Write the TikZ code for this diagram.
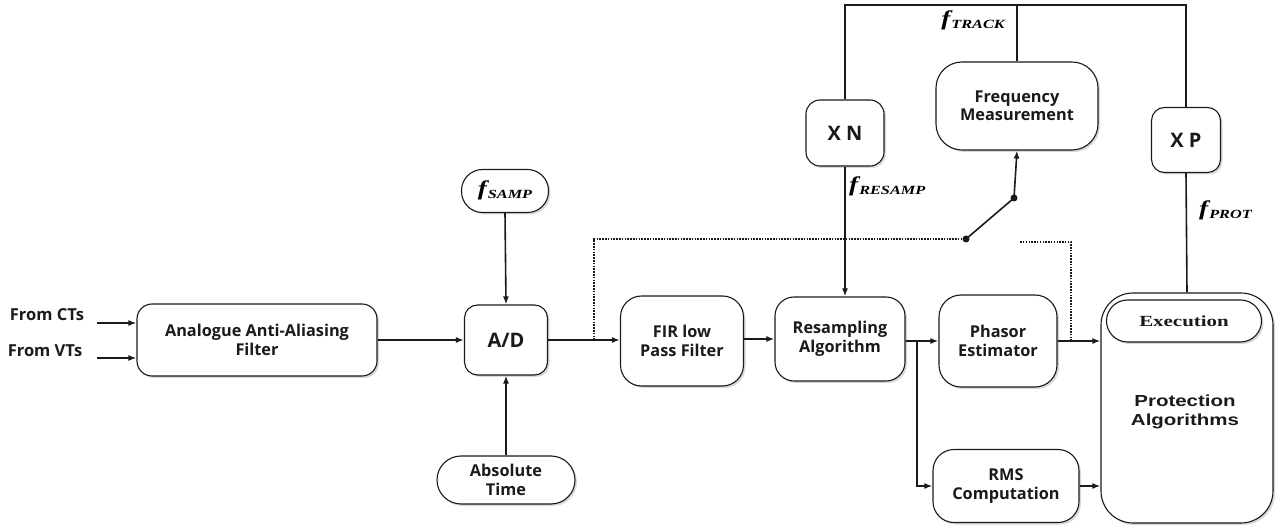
\documentclass[tikz,border=0pt]{standalone}
\usepackage{fontspec}
\usetikzlibrary{arrows.meta,shadows}
\newfontfamily\bxf{Open Sans}
\newfontfamily\arb[FakeStretch=1.28]{Liberation Sans}
\newfontfamily\tmb[FakeStretch=1.35]{Liberation Serif}
\newfontfamily\flb[FakeStretch=1.3]{Liberation Serif}
% frequency label: bold italic f with a small-capital subscript
\newcommand{\freq}[1]{{\flb\bfseries\itshape\fontsize{21}{21}\selectfont f\kern1pt\raisebox{-3pt}{\fontsize{12.5}{12.5}\selectfont #1}}}
\definecolor{ink}{HTML}{1A1A1A}
\definecolor{turn}{HTML}{4A6B96}
\tikzset{
  blk/.style={draw=ink, line width=1.1pt, fill=white, align=center, inner sep=2pt,
    font=\bxf\bfseries\fontsize{16.3}{18.5}\selectfont, text=ink,
    drop shadow={opacity=0.3, shadow xshift=2pt, shadow yshift=-2pt}},
  big/.style={font=\bxf\bfseries\fontsize{20}{22}\selectfont},
  wire/.style={draw=ink, line width=1.6pt},
  arr/.style={wire, -{Latex[length=8pt,width=6pt]}},
  dots/.style={draw=ink, line width=1.5pt, dash pattern=on 1.5pt off 1.3pt},
  lbl/.style={font=\bxf\bfseries\fontsize{16.5}{18.5}\selectfont, text=ink, inner sep=0pt},
  contact/.style={circle, fill=ink, inner sep=0pt, minimum size=7pt}
}
\begin{document}
\begin{tikzpicture}[x=1pt,y=-1pt]
\useasboundingbox (0,0) rectangle (1278,529);

% inputs
\node[lbl] (ct) at (47,315) {From CTs};
\node[lbl] (vt) at (45,351) {From VTs};
\coordinate (cts) at (97,323);
\coordinate (vts) at (97,358);

% main chain
\node[blk, rounded corners=15pt, minimum width=240pt, minimum height=72pt] (aaf) at (257,340) {Analogue Anti-Aliasing\\Filter};
\node[blk, big, rounded corners=13pt, minimum width=83pt, minimum height=70pt] (ad) at (506,340) {A/D};
\node[blk, rounded corners=21pt, minimum width=87pt, minimum height=43pt] (fs) at (505,191) {};
\node[inner sep=0pt] (fst) at (505,190) {\freq{SAMP}};
\node[blk, rounded corners=24pt, minimum width=138pt, minimum height=48pt] (at) at (506,480) {Absolute\\Time};
\node[blk, rounded corners=21pt, minimum width=123pt, minimum height=90pt] (fir) at (682,341) {FIR low\\Pass Filter};
\node[blk, rounded corners=19pt, minimum width=130pt, minimum height=84pt] (rs) at (840,339) {Resampling\\Algorithm};
\node[blk, rounded corners=22pt, minimum width=118pt, minimum height=92pt] (pe) at (998,341) {Phasor\\Estimator};
\node[blk, rounded corners=21pt, minimum width=146pt, minimum height=73pt] (rms) at (1006,486) {RMS\\Computation};
\node[blk, rounded corners=26pt, minimum width=162pt, minimum height=88pt] (fm) at (1017,106) {Frequency\\Measurement};
\node[blk, big, rounded corners=14pt, minimum width=78pt, minimum height=66pt] (xn) at (845,133) {X N};
\node[blk, big, rounded corners=13pt, minimum width=69pt, minimum height=65pt] (xp) at (1186,140) {X P};

% protection block with its execution stage
\node[blk, rounded corners=32pt, minimum width=172pt, minimum height=230pt] (pa) at (1187,408) {};
\node[font=\arb\bfseries\fontsize{16}{19}\selectfont, text=ink, align=center] (pat) at (1185,412) {Protection\\Algorithms};
\node[blk, rounded corners=21pt, minimum width=155pt, minimum height=42pt, font=\tmb\bfseries\fontsize{15.5}{17}\selectfont] (ex) at (1184,321) {Execution};

% frequency labels
\node[inner sep=0pt] (ftr) at (973,20) {\freq{TRACK}};
\node[inner sep=0pt, anchor=west] (frs) at (849,186) {\freq{RESAMP}};
\node[inner sep=0pt, anchor=west] (fpr) at (1199,210) {\freq{PROT}};

% signal path
\draw[arr] (cts) -- (cts -| aaf.west);
\draw[arr] (vts) -- (vts -| aaf.west);
\draw[arr] (aaf.east) -- (ad.west);
\draw[arr] (fs.south) -- (ad.north);
\draw[arr] (at.north) -- (ad.south);
\draw[arr] (ad.east) -- (fir.west |- ad.east);
\draw[arr] (fir.east |- rs.east) -- (rs.west);
\coordinate (br) at (917,341);
\draw[arr] (rs.east |- pe.west) -- (pe.west);
\draw[arr] (br) |- (rms.west);
\draw[arr] (pe.east) -- (pe.east -| pa.west);
\draw[arr] (rms.east) -- (rms.east -| pa.west);

% tracking loop
\coordinate (tr) at (1186,5);
\draw[wire] (xn.north) |- (tr) -- (xp.north);
\draw[wire] (fm.north) -- (fm.north |- tr);
\draw[arr] (xn.south) -- (xn.south |- rs.north);
\draw[wire] (xp.south) -- (pa.north);

% selector switch
\node[contact] (s1) at (966,239) {};
\node[contact] (s2) at (1014,198) {};
\coordinate (s3) at (1019,242);
\draw[wire] (s1.center) -- (s2.center);
\draw[arr] (s2.center) -- (fm.south);
\coordinate (tapa) at (594,340);
\coordinate (tapb) at (1071,341);
\draw[dots] (tapa) |- (s1.center);
\draw[dots] (tapb) |- (s3);
\draw[turn, line width=1.2pt, -{Latex[length=6pt,width=5pt]}] (965,211) .. controls (985,192) and (1012,205) .. (1006,228);
\end{tikzpicture}
\end{document}
